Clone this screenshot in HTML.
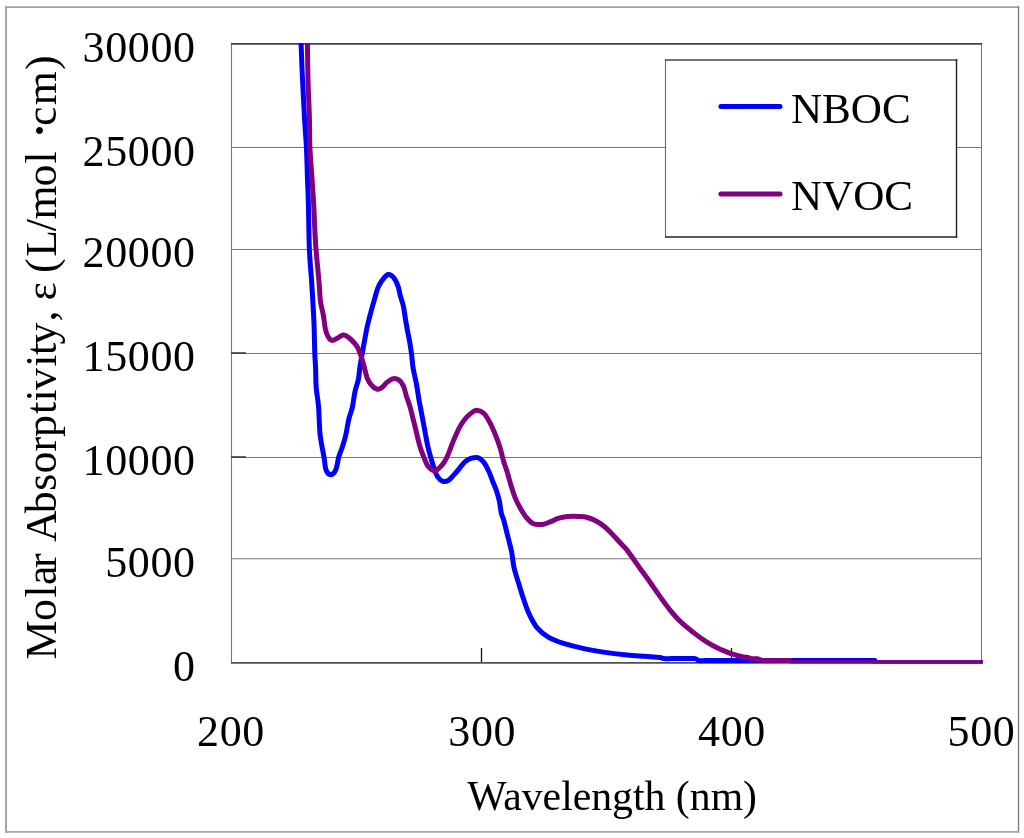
<!DOCTYPE html>
<html><head><meta charset="utf-8"><title>Molar Absorptivity</title>
<style>
html,body{margin:0;padding:0;background:#fff;}
svg{display:block}
text{font-family:"Liberation Serif",serif;font-size:43.1px;fill:#000}
.tk{font-size:44px;letter-spacing:0.6px}
</style></head><body>
<svg width="1024" height="838" viewBox="0 0 1024 838">
<rect width="1024" height="838" fill="#fff"/>
<g fill="none">
<line x1="6.05" x2="6.05" y1="6.2" y2="832.8" stroke="#a0a0a0" stroke-width="1.9"/>
<line x1="5.1" x2="1019.1" y1="7.1" y2="7.1" stroke="#a0a0a0" stroke-width="1.75"/>
<line x1="1018.5" x2="1018.5" y1="6.2" y2="832.8" stroke="#777" stroke-width="1.3"/>
<line x1="5.1" x2="1019.1" y1="831.9" y2="831.9" stroke="#a6a6a6" stroke-width="1.75"/>
</g>
<g stroke="#777" stroke-width="1.1"><line x1="231" x2="982" y1="147.5" y2="147.5"/><line x1="231" x2="982" y1="249.5" y2="249.5"/><line x1="231" x2="982" y1="353.5" y2="353.5"/><line x1="231" x2="982" y1="457.5" y2="457.5"/><line x1="231" x2="982" y1="558.7" y2="558.7"/></g>
<line x1="231.5" x2="231.5" y1="43.1" y2="663.6" stroke="#777" stroke-width="1.1"/>
<line x1="981.5" x2="981.5" y1="43.1" y2="663.6" stroke="#777" stroke-width="1.1"/>
<line x1="231" x2="982" y1="43.9" y2="43.9" stroke="#444" stroke-width="1.7"/>
<line x1="231" x2="982" y1="662.8" y2="662.8" stroke="#505050" stroke-width="1.7"/>
<g stroke="#3a3a3a" stroke-width="1.6"><line x1="231" x2="246" y1="353.0" y2="353.0"/><line x1="231" x2="246" y1="457.0" y2="457.0"/></g>
<g stroke="#111" stroke-width="1.3"><line x1="481.5" x2="481.5" y1="648" y2="662"/><line x1="731.5" x2="731.5" y1="648" y2="662"/></g>
<defs><clipPath id="c"><rect x="225" y="43.3" width="765" height="620.1"/></clipPath></defs>
<g clip-path="url(#c)" fill="none" stroke-width="5" stroke-linejoin="round" stroke-linecap="butt">
<path stroke="#0000ff" d="M301.1,40.0C301.1,40.7 300.9,37.5 301.1,44.0C301.3,50.5 301.9,66.7 302.5,79.0C303.1,91.3 303.9,106.7 304.5,118.0C305.1,129.3 305.9,137.2 306.4,147.0C306.9,156.8 307.1,167.5 307.4,177.0C307.7,186.5 308.1,191.9 308.4,204.0C308.7,216.1 308.8,236.3 309.4,249.4C309.9,262.4 310.9,270.3 311.7,282.3C312.4,294.3 313.4,309.5 313.9,321.4C314.4,333.3 314.5,345.9 314.8,353.7C315.1,361.5 315.4,362.4 315.6,368.0C315.8,373.6 315.7,381.1 316.2,387.6C316.7,394.1 318.0,399.3 318.6,407.1C319.2,414.9 319.2,426.1 320.1,434.5C321.0,442.9 323.0,451.3 324.0,457.2C325.0,463.1 324.9,466.9 326.0,469.8C327.1,472.7 329.3,474.7 330.9,474.7C332.5,474.7 334.5,472.7 335.8,469.8C337.1,466.9 337.6,461.1 338.7,457.2C339.8,453.3 341.4,450.1 342.6,446.3C343.8,442.5 344.8,439.1 345.9,434.5C346.9,429.9 347.8,423.5 348.9,418.9C350.0,414.3 351.4,411.7 352.4,407.1C353.4,402.5 354.0,396.1 355.0,391.5C356.0,386.9 357.5,383.6 358.3,379.7C359.1,375.8 359.2,372.3 359.8,368.0C360.4,363.7 361.4,358.2 362.2,353.7C363.0,349.2 363.6,345.7 364.5,341.0C365.4,336.3 366.4,330.2 367.5,325.3C368.6,320.4 369.8,316.2 371.0,311.6C372.2,307.0 373.8,301.8 374.9,297.9C376.0,294.0 376.6,291.0 377.8,288.1C379.0,285.2 380.5,282.6 382.2,280.3C383.9,278.0 386.1,275.0 388.0,274.5C389.9,274.0 391.8,275.4 393.5,277.4C395.2,279.3 396.9,283.1 398.0,286.2C399.1,289.3 399.5,292.7 400.4,296.0C401.3,299.3 402.5,302.2 403.3,305.8C404.1,309.4 404.6,313.6 405.2,317.5C405.8,321.4 406.5,325.3 407.2,329.2C407.9,333.1 408.8,336.9 409.5,341.0C410.2,345.1 410.9,349.2 411.5,353.7C412.1,358.2 412.3,363.0 413.1,368.0C413.9,373.0 415.4,378.5 416.4,383.7C417.4,388.9 418.0,394.1 418.9,399.3C419.8,404.5 420.9,409.8 421.9,415.0C422.9,420.2 423.8,425.4 424.8,430.6C425.8,435.8 426.8,441.9 427.8,446.3C428.8,450.7 429.6,453.3 430.7,457.2C431.8,461.1 433.5,466.6 434.6,469.8C435.7,473.0 436.2,474.7 437.5,476.6C438.8,478.5 440.6,480.5 442.4,481.1C444.2,481.8 446.5,481.4 448.3,480.5C450.1,479.6 451.4,477.6 453.2,475.6C455.0,473.7 457.2,471.1 459.1,468.8C461.1,466.5 462.9,463.6 464.9,461.9C466.8,460.2 468.6,459.1 470.8,458.4C473.0,457.7 475.7,457.0 477.8,457.6C479.9,458.2 481.9,460.0 483.7,462.2C485.5,464.4 487.1,467.9 488.6,471.0C490.1,474.1 491.2,477.5 492.5,480.8C493.8,484.1 495.2,487.2 496.4,490.6C497.5,494.0 498.6,497.6 499.4,501.3C500.2,505.1 500.6,510.0 501.3,513.1C502.0,516.2 502.6,516.2 503.7,520.0C504.8,523.8 506.3,530.5 507.6,535.7C508.9,540.9 510.4,546.1 511.5,551.3C512.5,556.5 512.8,561.8 513.9,567.0C515.0,572.2 516.8,577.4 518.4,582.6C520.0,587.8 521.5,593.1 523.3,598.3C525.1,603.5 526.8,609.0 529.1,613.9C531.4,618.8 533.7,623.7 537.0,627.6C540.3,631.5 544.1,634.7 548.7,637.4C553.3,640.1 558.5,641.8 564.4,643.7C570.3,645.6 577.4,647.2 583.9,648.6C590.4,650.0 596.3,651.0 603.5,652.1C610.7,653.2 620.1,654.3 627.0,655.0C633.9,655.7 639.5,655.9 645.0,656.3C650.5,656.7 656.9,657.0 660.0,657.4C663.1,657.8 661.5,658.4 663.5,658.6C665.5,658.8 667.9,658.6 672.0,658.6C676.1,658.6 684.1,658.6 688.0,658.6C691.9,658.6 693.8,658.3 695.5,658.6C697.2,658.9 696.8,660.3 698.5,660.6C700.2,660.9 702.4,660.6 706.0,660.6C709.6,660.6 694.3,660.6 720.0,660.6C745.7,660.6 834.6,660.6 860.0,660.6C885.4,660.6 869.9,660.2 872.5,660.6C875.1,661.0 873.4,662.4 875.5,662.7C877.6,663.1 867.1,662.7 885.0,662.7C902.9,662.7 966.7,662.7 983.0,662.7"/>
<path stroke="#800080" d="M307.4,40.0C307.4,40.7 307.3,37.5 307.4,44.0C307.5,50.5 307.7,66.7 308.0,79.0C308.3,91.3 309.1,106.7 309.4,118.0C309.7,129.3 309.5,137.2 309.9,147.0C310.3,156.8 311.3,167.5 311.9,177.0C312.5,186.5 313.2,195.3 313.7,204.0C314.2,212.7 314.4,221.8 314.8,229.4C315.2,237.0 315.5,242.9 316.0,249.4C316.5,255.9 317.2,262.2 317.8,268.6C318.4,275.1 319.1,282.6 319.5,288.1C319.9,293.6 319.9,297.2 320.5,301.8C321.1,306.4 322.6,310.9 323.4,315.5C324.2,320.1 324.6,325.6 325.4,329.2C326.2,332.8 327.2,335.2 328.3,337.1C329.4,339.0 330.3,340.2 331.9,340.4C333.5,340.5 335.8,338.9 337.7,338.0C339.6,337.1 341.5,334.9 343.6,335.1C345.7,335.3 348.1,337.0 350.4,339.0C352.7,341.0 355.5,344.0 357.3,346.9C359.1,349.8 360.0,353.1 361.2,356.6C362.4,360.1 363.5,364.5 364.5,368.0C365.5,371.5 366.0,375.0 367.1,377.8C368.2,380.6 369.4,382.7 371.0,384.6C372.6,386.5 375.1,388.6 376.9,389.1C378.7,389.6 380.2,388.7 381.8,387.6C383.4,386.5 384.9,384.2 386.7,382.7C388.5,381.2 390.6,379.3 392.5,378.8C394.4,378.3 396.6,378.6 398.4,379.7C400.2,380.8 402.0,383.0 403.3,385.6C404.6,388.2 405.1,391.8 406.2,395.4C407.3,399.0 409.0,403.2 410.1,407.1C411.2,411.0 412.1,415.0 413.1,418.9C414.1,422.8 414.9,426.0 416.0,430.6C417.1,435.2 418.6,441.9 419.9,446.3C421.2,450.7 422.5,453.9 423.8,457.2C425.1,460.4 426.0,463.6 427.8,465.8C429.6,468.1 432.7,470.4 434.6,470.7C436.6,471.0 437.9,469.3 439.5,467.8C441.1,466.3 442.9,464.2 444.4,461.9C445.9,459.6 447.2,456.7 448.3,454.1C449.4,451.5 449.9,449.6 451.2,446.3C452.5,443.0 454.5,438.1 456.1,434.5C457.7,430.9 459.2,427.7 461.0,424.8C462.8,421.9 464.9,419.0 466.9,416.9C468.9,414.8 471.1,413.1 472.8,412.0C474.5,410.9 475.0,410.1 476.8,410.3C478.6,410.5 481.6,411.3 483.7,413.3C485.8,415.3 487.7,418.5 489.6,422.1C491.6,425.7 493.6,430.4 495.4,434.8C497.2,439.2 499.0,444.3 500.3,448.5C501.6,452.7 502.2,456.3 503.3,460.2C504.4,464.1 505.9,467.8 507.2,472.0C508.5,476.2 509.8,481.5 511.1,485.7C512.4,489.9 513.4,493.5 515.0,497.4C516.6,501.3 518.9,505.8 520.9,509.2C522.9,512.6 524.7,515.6 526.8,518.0C528.9,520.4 531.0,522.7 533.6,523.8C536.2,524.9 539.6,524.7 542.4,524.4C545.2,524.1 547.6,522.9 550.2,521.9C552.8,520.9 555.2,519.3 558.1,518.4C561.0,517.5 564.5,516.9 567.8,516.6C571.0,516.3 574.6,516.3 577.6,516.4C580.6,516.5 582.9,516.3 585.8,517.0C588.7,517.7 592.3,519.0 595.2,520.5C598.1,522.0 600.7,523.6 603.4,525.8C606.1,527.9 609.1,530.9 611.6,533.4C614.1,535.9 616.3,538.5 618.6,541.0C620.9,543.5 623.2,545.6 625.6,548.4C628.0,551.2 630.4,554.7 632.7,558.0C635.1,561.3 637.6,565.0 639.7,568.0C641.9,571.0 643.3,572.9 645.6,576.0C647.9,579.1 650.6,583.1 653.3,586.9C655.9,590.7 658.7,594.7 661.5,598.6C664.3,602.5 667.1,606.4 670.3,610.3C673.5,614.2 676.8,618.1 680.9,622.0C685.0,625.9 690.6,630.2 694.9,633.6C699.2,637.0 702.9,639.7 706.9,642.2C710.9,644.7 714.7,646.8 718.6,648.6C722.5,650.5 726.4,651.9 730.3,653.3C734.2,654.6 739.2,656.0 742.0,656.7C744.8,657.4 745.5,657.0 747.0,657.3C748.5,657.6 749.3,658.4 751.0,658.6C752.7,658.9 755.5,658.6 757.0,658.8C758.5,659.0 759.0,659.4 760.0,659.7C761.0,660.0 760.5,660.5 763.0,660.6C765.5,660.8 770.6,660.6 775.0,660.6C779.4,660.6 786.8,660.5 789.5,660.6C792.2,660.7 790.5,660.7 791.0,661.0C791.5,661.3 792.0,662.0 792.5,662.3C793.0,662.6 792.8,662.6 794.0,662.7C795.2,662.8 795.7,662.7 800.0,662.7C804.3,662.7 789.5,662.7 820.0,662.7C850.5,662.7 955.8,662.7 983.0,662.7"/>
</g>
<rect x="665.5" y="60" width="291" height="177" fill="#fff"/>
<line x1="665.5" x2="665.5" y1="59.2" y2="237.7" stroke="#666" stroke-width="1.1"/>
<line x1="665" x2="957.2" y1="60" y2="60" stroke="#444" stroke-width="1.7"/>
<line x1="956.5" x2="956.5" y1="59.2" y2="237.7" stroke="#222" stroke-width="1.4"/>
<line x1="665" x2="957.2" y1="237" y2="237" stroke="#222" stroke-width="1.5"/>
<line x1="720.9" x2="780" y1="106.6" y2="106.6" stroke="#0000ff" stroke-width="5" stroke-linecap="round"/>
<line x1="720.9" x2="780" y1="193.9" y2="193.9" stroke="#800080" stroke-width="5" stroke-linecap="round"/>
<text x="791" y="122.5">NBOC</text>
<text x="791" y="210">NVOC</text>
<text class="tk" x="195.6" y="61.6" text-anchor="end">30000</text><text class="tk" x="195.6" y="165.5" text-anchor="end">25000</text><text class="tk" x="195.6" y="267.2" text-anchor="end">20000</text><text class="tk" x="195.6" y="371.1" text-anchor="end">15000</text><text class="tk" x="195.6" y="474.7" text-anchor="end">10000</text><text class="tk" x="195.6" y="577.0" text-anchor="end">5000</text><text class="tk" x="195.6" y="680.6" text-anchor="end">0</text>
<text class="tk" x="231" y="746.4" text-anchor="middle">200</text><text class="tk" x="482.2" y="746.4" text-anchor="middle">300</text><text class="tk" x="732" y="746.4" text-anchor="middle">400</text><text class="tk" x="981.5" y="746.4" text-anchor="middle">500</text>
<text x="467.2" y="810" textLength="289.8" lengthAdjust="spacingAndGlyphs">Wavelength (nm)</text>
<text transform="translate(55.5,658.3) rotate(-90)" style="font-size:43.8px"><tspan x="-1.3 37.3 60.8 73.3 90.4 107.0 116.2 145.0 167.6 184.9 206.8 221.4 244.2 256.7 268.2 291.6 303.2 313.8 336.9 345.1 357.9 374.4 385.4 401.6 427.0 438.9 471.9 494.8">Molar Absorptivity, ε (L/mol</tspan><tspan x="517.8" dy="3.6" style="font-size:60px">·</tspan><tspan x="532.3" dy="-3.6" style="letter-spacing:1.2px">cm)</tspan></text>
</svg>
</body></html>
